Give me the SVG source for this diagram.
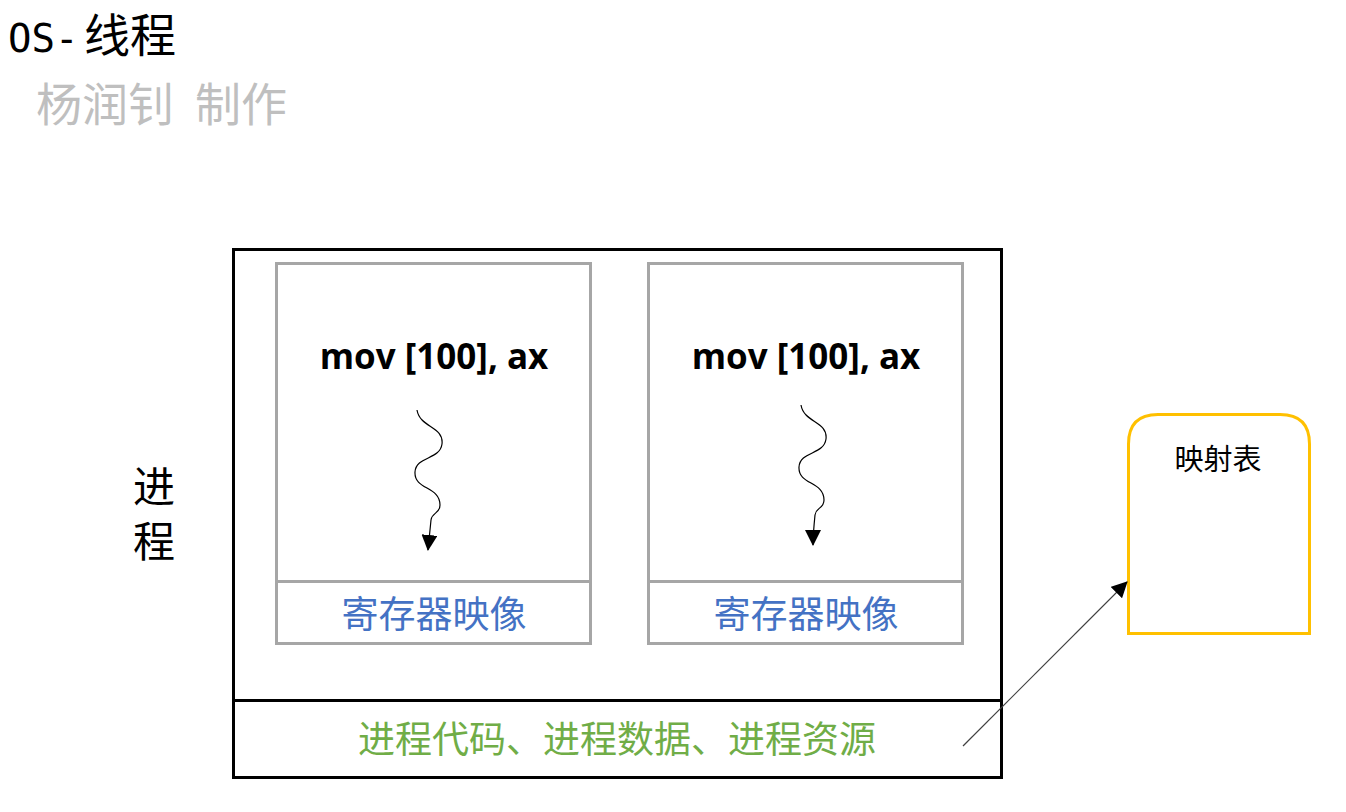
<svg xmlns="http://www.w3.org/2000/svg" width="1346" height="812" viewBox="0 0 1346 812">
<style>
.cjk{font-family:"Noto Sans CJK SC","Microsoft YaHei",sans-serif;}
.mov{font-family:"Open Sans","Liberation Sans",sans-serif;font-weight:bold;font-size:35px;fill:#000;text-anchor:middle;}
.inner{fill:#fff;stroke:#a6a6a6;stroke-width:3;}
.wave{fill:none;stroke:#000;stroke-width:1.2;}
</style>
<defs>
<marker id="ah" markerWidth="16" markerHeight="16" refX="15" refY="8" orient="auto" markerUnits="userSpaceOnUse" viewBox="0 0 16 16">
<path d="M0,0 L16,8 L0,16 Z" fill="#000"/>
</marker>
<marker id="ah2" markerWidth="16" markerHeight="16" refX="15" refY="8" orient="auto" markerUnits="userSpaceOnUse" viewBox="0 0 16 16">
<path d="M0,0 L16,8 L0,16 Z" fill="#000"/>
</marker>
</defs>
<rect width="1346" height="812" fill="#fff"/>
<g id="title">
<text x="8" y="52" class="cjk" font-size="46" fill="#000"><tspan font-family="DejaVu Sans Mono, monospace" font-size="39">OS-</tspan><tspan x="84">线程</tspan></text>
<text x="36" y="121" class="cjk" font-size="46" fill="#bfbfbf">杨润钊<tspan x="195">制作</tspan></text>
</g>
<g id="process-label">
<text x="154" y="502" class="cjk" font-size="42" fill="#000" text-anchor="middle">进</text>
<text x="154" y="557" class="cjk" font-size="42" fill="#000" text-anchor="middle">程</text>
</g>
<g id="process">
<rect x="233.5" y="249.5" width="768" height="528" fill="#fff" stroke="#000" stroke-width="3"/>
<line x1="233.5" y1="700.5" x2="1001.5" y2="700.5" stroke="#000" stroke-width="3"/>
<text x="617" y="753" class="cjk" font-size="37" fill="#70AD47" text-anchor="middle">进程代码、进程数据、进程资源</text>
</g>
<g id="thread1">
<rect class="inner" x="276.5" y="263.5" width="314" height="380"/>
<line x1="276.5" y1="581.5" x2="590.5" y2="581.5" stroke="#a6a6a6" stroke-width="3"/>
<text x="434" y="369" class="mov">mov [100], ax</text>
<text x="434" y="628" class="cjk" font-size="37" fill="#4472C4" text-anchor="middle">寄存器映像</text>
</g>
<g id="thread2">
<rect class="inner" x="648.5" y="263.5" width="314" height="380"/>
<line x1="648.5" y1="581.5" x2="962.5" y2="581.5" stroke="#a6a6a6" stroke-width="3"/>
<text x="806" y="369" class="mov">mov [100], ax</text>
<text x="806" y="628" class="cjk" font-size="37" fill="#4472C4" text-anchor="middle">寄存器映像</text>
</g>
<g id="mapping">
<path d="M1128.5,633.5 V444 Q1128.5,414.5 1158,414.5 H1280 Q1309.5,414.5 1309.5,444 V633.5 Z" fill="#fff" stroke="#FFC000" stroke-width="3"/>
<text x="1218" y="470" class="cjk" font-size="29" fill="#000" text-anchor="middle">映射表</text>
</g>
<g id="connectors">
<path class="wave" d="M417,410 C420,428 444,426 442,444 C440,460 416,456 415,472 C414,490 440,486 440,505 C440,514 432,512 431,520 C430,530 429,540 428,550" marker-end="url(#ah)"/>
<path class="wave" d="M801,405 C804,423 828,421 826,439 C824,455 800,451 799,467 C798,485 824,481 824,500 C824,509 816,507 815,515 C814,525 813,535 813,545" marker-end="url(#ah)"/>
<line x1="963" y1="746" x2="1127" y2="582" stroke="#404040" stroke-width="1.2" marker-end="url(#ah2)"/>
</g>
</svg>
